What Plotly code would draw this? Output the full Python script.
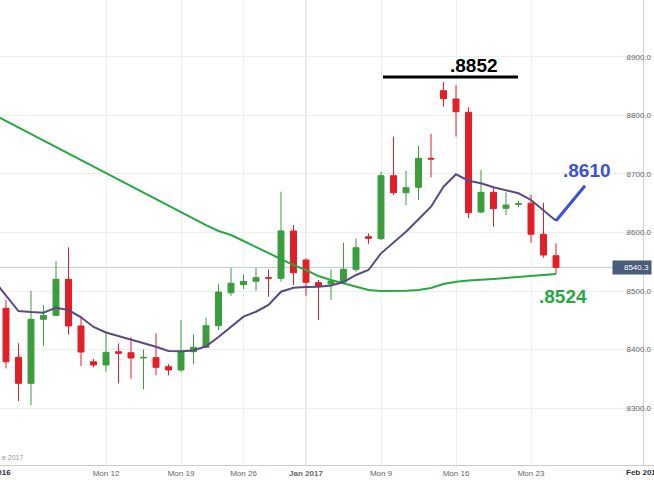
import plotly.graph_objects as go

# ---------------- data ----------------
dates = [
    "2016-12-02", "2016-12-04", "2016-12-05", "2016-12-06", "2016-12-07", "2016-12-08", "2016-12-09",
    "2016-12-11", "2016-12-12", "2016-12-13", "2016-12-14", "2016-12-15", "2016-12-16",
    "2016-12-18", "2016-12-19", "2016-12-20", "2016-12-21", "2016-12-22", "2016-12-23",
    "2016-12-26", "2016-12-27", "2016-12-28", "2016-12-29", "2016-12-30",
    "2017-01-02", "2017-01-03", "2017-01-04", "2017-01-05", "2017-01-06",
    "2017-01-08", "2017-01-09", "2017-01-10", "2017-01-11", "2017-01-12", "2017-01-13",
    "2017-01-15", "2017-01-16", "2017-01-17", "2017-01-18", "2017-01-19", "2017-01-20",
    "2017-01-22", "2017-01-23", "2017-01-24", "2017-01-25",
]
opens = [8470.4, 8386.7, 8342.2, 8451.6, 8458.4, 8520.0, 8440.2,
         8379.0, 8373.5, 8396.2, 8394.5, 8385.5, 8386.0,
         8370.6, 8365.0, 8396.2, 8403.7, 8440.7, 8497.1,
         8510.8, 8516.6, 8522.7, 8521.7, 8602.6,
         8553.0, 8514.2, 8512.0, 8515.4, 8537.0,
         8592.8, 8589.4, 8697.1, 8668.0, 8677.3, 8726.8,
         8842.4, 8828.2, 8805.5, 8635.0, 8668.7, 8641.4,
         8648.0, 8650.0, 8597.0, 8560.3]
highs = [8484.6, 8410.6, 8500.0, 8475.5, 8551.3, 8574.7, 8457.3,
         8383.8, 8430.4, 8410.6, 8420.8, 8400.3, 8427.7,
         8375.2, 8450.4, 8426.0, 8454.4, 8511.4, 8539.3,
         8528.5, 8539.3, 8537.1, 8669.8, 8612.8,
         8556.0, 8518.8, 8537.0, 8582.6, 8590.0,
         8598.6, 8704.0, 8763.8, 8705.6, 8747.9, 8768.4,
         8857.0, 8852.0, 8814.0, 8706.8, 8675.6, 8668.7,
         8654.4, 8664.0, 8651.0, 8581.5]
lows = [8367.8, 8312.0, 8305.0, 8406.5, 8457.0, 8425.3, 8371.8,
        8369.6, 8362.0, 8342.2, 8350.0, 8332.0, 8355.9,
        8355.9, 8362.0, 8374.7, 8403.0, 8433.3, 8492.0,
        8503.4, 8500.5, 8490.3, 8515.9, 8510.2,
        8492.0, 8450.4, 8484.6, 8514.0, 8533.0,
        8580.7, 8587.0, 8664.0, 8647.0, 8655.6, 8694.4,
        8815.0, 8763.8, 8624.3, 8632.8, 8610.0, 8630.0,
        8643.0, 8582.6, 8557.0, 8529.0]
closes = [8379.0, 8342.2, 8451.6, 8458.4, 8520.0, 8440.2, 8395.7,
          8373.5, 8395.2, 8393.5, 8385.5, 8386.5, 8369.6,
          8365.0, 8396.2, 8403.7, 8440.7, 8498.3, 8513.2,
          8516.6, 8522.7, 8522.0, 8602.6, 8531.3,
          8514.9, 8508.5, 8517.0, 8537.0, 8574.0,
          8590.0, 8697.1, 8668.0, 8676.6, 8726.8, 8725.6,
          8828.7, 8806.5, 8633.8, 8668.7, 8640.7, 8647.0,
          8649.0, 8597.0, 8561.5, 8540.3]

ma_dates = ["2016-12-01"] + dates
ma_short = [8518.8, 8491.5, 8465.8, 8464.1, 8462.9, 8471.5, 8467.5, 8455.0,
            8438.5, 8429.1, 8423.1, 8417.9, 8411.6, 8404.8,
            8397.4, 8396.9, 8398.3, 8405.5, 8421.4, 8439.0,
            8456.1, 8464.6, 8476.1, 8498.8, 8505.6,
            8506.8, 8507.4, 8509.4, 8515.4, 8527.4,
            8535.9, 8564.4, 8582.6, 8601.4, 8622.6, 8644.1,
            8678.3, 8699.5, 8688.5, 8684.1, 8677.3, 8672.6,
            8667.0, 8655.6, 8637.3, 8620.2]
ma_long = [8801.5, 8790.4, 8779.7, 8768.2, 8756.6, 8746.0, 8734.4, 8723.8,
           8712.1, 8701.5, 8689.9, 8679.3, 8667.7, 8657.1,
           8645.5, 8634.9, 8623.2, 8612.6, 8602.6, 8595.7,
           8585.5, 8575.2, 8564.1, 8553.8, 8544.4,
           8535.9, 8525.6, 8518.8, 8512.8, 8506.8,
           8501.7, 8500.0, 8500.0, 8500.5, 8501.7, 8505.1,
           8512.0, 8515.9, 8517.9, 8518.8, 8520.5, 8522.2,
           8523.9, 8525.6, 8527.4, 8529.1]

future_dates = ["2017-01-26", "2017-01-27", "2017-01-28", "2017-01-29",
                "2017-01-30", "2017-01-31", "2017-02-01", "2017-02-02"]
all_categories = ["2016-12-01"] + dates + future_dates

tick_dates = ["2016-12-12", "2016-12-19", "2016-12-26", "2017-01-02",
              "2017-01-09", "2017-01-16", "2017-01-23"]
tick_labels = ["Mon 12", "Mon 19", "Mon 26", "<b>Jan 2017</b>",
               "Mon 9", "Mon 16", "Mon 23"]
edge_month_labels = {"2016-12-01": "<b>Dec 2016</b>", "2017-02-01": "<b>Feb 2017</b>"}
month_starts = ["2017-01-02", "2017-02-01"]
y_ticks = [8300, 8400, 8500, 8600, 8700, 8800, 8900]
last_price = 8540.3

high_label, high_level = ".8852", 8865.8
short_label = ".8610"
long_label = ".8524"

FONT = "Liberation Sans, Arial, sans-serif"
RED = "#e21f26"
GREEN = "#3b9d3b"
PURPLE = "#5a4a82"
MA_GREEN = "#26a843"
BLUE = "#3d4fd6"

X_RANGE = [0.52, 52.84]
pos = {c: i for i, c in enumerate(all_categories)}


def to_paper(idx):
    return (idx - X_RANGE[0]) / (X_RANGE[1] - X_RANGE[0])


fig = go.Figure()

fig.add_trace(go.Scatter(x=ma_dates, y=ma_long, mode="lines",
                         line=dict(color=MA_GREEN, width=2), hoverinfo="skip"))
fig.add_trace(go.Scatter(x=ma_dates, y=ma_short, mode="lines",
                         line=dict(color=PURPLE, width=2), hoverinfo="skip"))
fig.add_trace(go.Candlestick(
    x=dates, open=opens, high=highs, low=lows, close=closes,
    increasing=dict(line=dict(color=GREEN, width=1), fillcolor=GREEN),
    decreasing=dict(line=dict(color=RED, width=1), fillcolor=RED),
))

shapes = []
for m in month_starts:
    shapes.append(dict(type="line", xref="x", yref="paper", x0=pos[m], x1=pos[m], y0=0, y1=1,
                       line=dict(color="#d2d2d2", width=1), layer="below"))
shapes.append(dict(type="line", xref="paper", yref="y", x0=0, x1=613 / 654,
                   y0=last_price, y1=last_price, line=dict(color="#c4c8d4", width=1),
                   layer="below"))
# hand-drawn markers
shapes.append(dict(type="line", xref="x", yref="y", x0=31.16, x1=41.96,
                   y0=high_level, y1=high_level, line=dict(color="black", width=3)))
shapes.append(dict(type="line", xref="x", yref="y", x0=pos[dates[-1]], x1=47.32,
                   y0=ma_short[-1], y1=8680, line=dict(color=BLUE, width=3)))

annotations = [
    dict(x=38.44, y=8886.3, xref="x", yref="y", text=f"<b>{high_label}</b>",
         showarrow=False, font=dict(family=FONT, size=19, color="black")),
    dict(x=47.48, y=8706.8, xref="x", yref="y", text=f"<b>{short_label}</b>",
         showarrow=False, font=dict(family=FONT, size=19, color=BLUE)),
    dict(x=45.58, y=8490.3, xref="x", yref="y", text=f"<b>{long_label}</b>",
         showarrow=False, font=dict(family=FONT, size=19, color=MA_GREEN)),
    dict(x=652 / 654, y=last_price, xref="paper", yref="y", xanchor="right",
         text=f"{last_price:.1f}", showarrow=False, bgcolor="#4b5b7b", borderpad=2,
         width=34, align="right",
         font=dict(family=FONT, size=8, color="white")),
    dict(x=0, y=1 - 457 / 465, xref="paper", yref="paper", xanchor="left", yanchor="middle",
         text="e 2017", showarrow=False, font=dict(family=FONT, size=7, color="#999")),
]
for d, lab in edge_month_labels.items():
    annotations.append(dict(x=to_paper(pos[d]), y=-7 / 465, xref="paper", yref="paper",
                            xanchor="center", yanchor="middle", text=lab, showarrow=False,
                            font=dict(family=FONT, size=8, color="#333")))

fig.update_layout(
    width=654, height=480,
    margin=dict(l=0, r=0, t=0, b=15, autoexpand=False),
    paper_bgcolor="white", plot_bgcolor="white",
    showlegend=False,
    boxgap=0.32,
    font=dict(family=FONT, size=8, color="#666"),
    shapes=shapes, annotations=annotations,
    xaxis=dict(
        type="category", categoryorder="array", categoryarray=all_categories,
        range=X_RANGE, tickmode="array", tickvals=tick_dates, ticktext=tick_labels,
        showgrid=True, gridcolor="#eeeeee", ticks="", showline=True, linecolor="#cccccc",
        tickfont=dict(family=FONT, size=8, color="#666"), automargin=False,
        rangeslider=dict(visible=False), fixedrange=True,
    ),
    yaxis=dict(
        side="right", range=[8202.6, 8997.4], tickmode="array", tickvals=y_ticks,
        tickformat=".1f", ticklabelposition="inside", showgrid=True, gridcolor="#eeeeee",
        zeroline=False, showline=False, ticks="", automargin=False,
        tickfont=dict(family=FONT, size=8, color="#666"), fixedrange=True,
    ),
)

fig.write_html("out.html", config={"displayModeBar": False},
               post_script="document.body.style.margin='0';document.body.style.overflow='hidden';")
